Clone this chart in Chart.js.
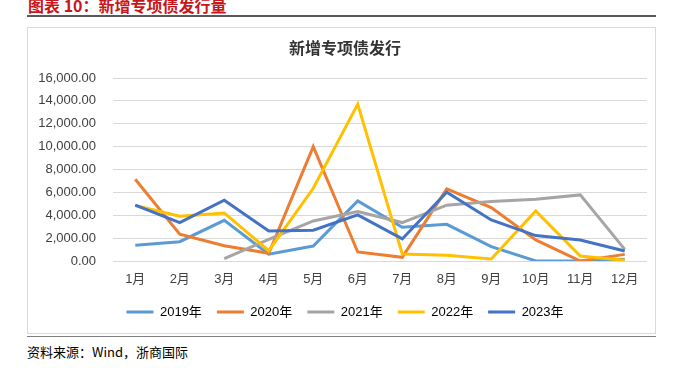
<!DOCTYPE html>
<html>
<head>
<meta charset="utf-8">
<script src="https://cdn.jsdelivr.net/npm/chart.js@4.4.1/dist/chart.umd.min.js"></script>
<style>
  body { margin: 0; width: 685px; height: 368px; background: #fff; position: relative; overflow: hidden; }
  .hd { position: absolute; left: 28px; top: -7px; font: bold 16px 'Noto Sans CJK SC', sans-serif; color: #c8161d; white-space: nowrap; }
  .rule { position: absolute; left: 27px; top: 15px; width: 629px; height: 2px; background: #595959; }
  .box { position: absolute; left: 27px; top: 27px; width: 629px; height: 307px; border: 1px solid #d9d9d9; box-sizing: border-box; }
  .rule2 { position: absolute; left: 27px; top: 336px; width: 629px; height: 1px; background: #808080; }
  .src { position: absolute; left: 27px; top: 342px; font: 13px 'Noto Sans CJK SC', sans-serif; color: #000; white-space: nowrap; }
  .wrap { position: absolute; left: 0; top: 0; width: 685px; height: 368px; }
</style>
</head>
<body>
<div class="hd">图表 10：新增专项债发行量</div>
<div class="rule"></div>
<div class="box"></div>
<div class="rule2"></div>
<div class="src">资料来源：Wind，浙商国际</div>
<div class="wrap"><canvas id="chart"></canvas></div>
<script>
const months = ['1月', '2月', '3月', '4月', '5月', '6月', '7月', '8月', '9月', '10月', '11月', '12月'];
const y2019 = [1380, 1690, 3560, 600, 1310, 5250, 2950, 3210, 1250, 0, 0, 150];
const y2020 = [7150, 2340, 1340, 670, 9990, 790, 320, 6300, 4670, 1840, 0, 580];
const y2021 = [null, null, 200, 1900, 3500, 4320, 3360, 4880, 5200, 5400, 5780, 1020];
const y2022 = [4850, 3910, 4200, 900, 6360, 13720, 610, 500, 175, 4380, 440, 60];
const y2023 = [4880, 3360, 5310, 2630, 2690, 4030, 1930, 6010, 3590, 2220, 1840, 880];
const seriesNames = ['2019年', '2020年', '2021年', '2022年', '2023年'];
const seriesColors = ['#5b9bd5', '#ed7d31', '#a5a5a5', '#ffc000', '#4472c4'];

const font = "'Liberation Sans', 'Noto Sans CJK SC', sans-serif";
const textColor = '#404040';

const datasets = [y2019, y2020, y2021, y2022, y2023].map((values, i) => ({
  label: seriesNames[i],
  data: values,
  borderColor: seriesColors[i],
  backgroundColor: seriesColors[i],
  borderWidth: 3,
  pointRadius: 0,
  tension: 0,
  order: 5 - i,
}));

new Chart(document.getElementById('chart'), {
  type: 'line',
  data: { labels: months, datasets },
  options: {
    responsive: true,
    maintainAspectRatio: false,
    devicePixelRatio: 1,
    animation: false,
    layout: { padding: { left: 43, right: 38, top: 28, bottom: 39.5 } },
    plugins: {
      title: {
        display: true,
        text: '新增专项债发行',
        color: '#333',
        font: { size: 16, weight: 'bold', family: font, lineHeight: 1.2 },
        padding: { top: 12, bottom: 18.8 },
      },
      legend: {
        position: 'bottom',
        labels: {
          boxWidth: 27,
          boxHeight: 3,
          padding: 15,
          color: textColor,
          font: { size: 13, family: font },
          generateLabels: (chart) =>
            chart.data.datasets.map((ds, i) => ({
              text: ds.label,
              fillStyle: ds.borderColor,
              strokeStyle: ds.borderColor,
              lineWidth: 0,
              datasetIndex: i,
              hidden: false,
            })),
        },
      },
      tooltip: { enabled: false },
    },
    scales: {
      x: {
        offset: true,
        grid: { display: false, drawTicks: false, offset: true },
        border: { display: false },
        ticks: { color: textColor, font: { size: 13, family: font }, padding: 11, maxRotation: 0, autoSkip: false },
        afterFit: (scale) => { scale.height = 29.5; },
      },
      y: {
        min: 0,
        max: 16000,
        grid: { color: '#d9d9d9', drawTicks: false },
        border: { display: false },
        ticks: {
          stepSize: 2000,
          padding: 17,
          color: textColor,
          font: { size: 13, family: font },
          callback: (v) => v.toLocaleString('en-US', { minimumFractionDigits: 2, maximumFractionDigits: 2 }),
        },
        afterFit: (scale) => {
          scale.width = 70;
          // labels are wider than the fixed axis box, so don't clip them to it
          scale._computeLabelArea = () => undefined;
        },
      },
    },
  },
});
</script>
</body>
</html>
